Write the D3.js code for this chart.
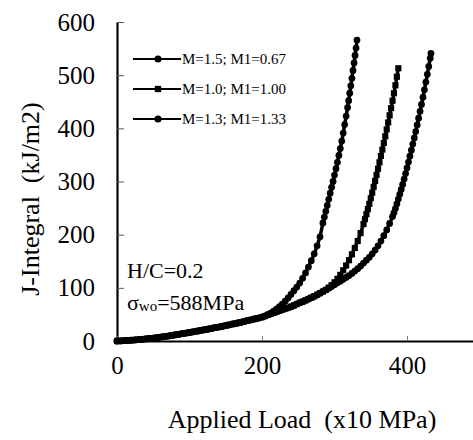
<!DOCTYPE html>
<html>
<head>
<meta charset="utf-8">
<script src="https://cdn.jsdelivr.net/npm/d3@7"></script>
<style>
  body { margin: 0; background: #fff; }
  svg { display: block; }
  svg text { font-family: "Liberation Serif", "Times New Roman", serif; white-space: pre; }
</style>
</head>
<body>
<svg id="chart" width="473" height="440"></svg>
<script>
// Shared low-load part of all three curves (load in x10 MPa, J in kJ/m2)
const baseLoad = [0,5,10,15,20,25,30,35,40,45,50,55,60,65,70,75,80,85,90,95,100,105,110,115,120,125,130,135,140,145,150,155,160,165,170,175,180,185,190,195,200];
const baseJ = [0,0.2,0.5,1,1.5,2,2.6,3.2,4,4.7,5.5,6.4,7.3,8.3,9.3,10.4,11.5,12.6,13.8,14.9,16,17.2,18.5,19.8,21,22.3,23.6,25,26.3,27.6,29,30.5,32,33.5,35,36.6,38.2,39.8,41.5,43.2,45];

// M=1.5; M1=0.67
const s1Load = [204,208,212,216,220,224,228,232,236,240,244,248,252,256,260,264,268,272,276,280,284,286,288,290,292,294,296,298,300,302,304,306,308,310,312,314,316,318,319.5,321,322.5,324,325.5,327,328.3,329.7,331];
const s1J = [47,49.5,52.5,56,60,64.5,69.5,75,81,87.5,94.5,101.5,109,118,128,139,151,164,179,196,222,233,244,255,266.5,278,289,300,312,324,336,349,362,376,391,407,423,439,452,466,480,494,509,523,537,551,566];

// M=1.0; M1=1.00
const s2Load = [204,208,212,216,220,224,228,232,236,240,244,248,252,256,260,264,268,272,276,280,284,288,292,296,300,304,308,312,316,320,324,328,332,336,340,342,344,346,348,350,352,354,356,358,360,362,364,366,368,370,372,374,376,378,380,382,384,386,388];
const s2J = [47,49,51,53,55,57,59,61,62.5,64.5,67,69.5,72,74,76.5,79,81.5,84,87,90,93,96,100.5,105,110.5,117,124.5,133,142,152,163,175,188,203,220,229,238.5,248,258,268.5,279,290,301,312.5,324,336,348,360,372.5,385,398,411,424.5,438,452,466,481,497,513];

// M=1.3; M1=1.33
const s3Load = [204,208,212,216,220,224,228,232,236,240,244,248,252,256,260,264,268,272,276,280,284,288,292,296,300,304,308,312,316,320,324,328,332,336,340,344,348,352,356,360,364,368,372,376,380,382,384,386,388,390,392,394,396,398,400,402,404,406,408,410,412,414,416,418,420,422,424,426,428,430,432,433];
const s3J = [47,49,51,53,55,57,59,61,62.5,64.5,67,69.5,72,74,76.5,79,81.5,84,87,90,93,96,99,102.5,106,109.5,112.5,116,119.5,123,127,131.5,136,141,146.5,152,157.5,164,171,179,188,198,209,221,234,241,249,258,267,276,285,294.5,304.5,315,325.5,336.5,347.5,359,370.5,382,394,406.5,419,432,445,458.5,472.5,487,501.5,516.5,532,541];

const seriesNames = ["M=1.5; M1=0.67", "M=1.0; M1=1.00", "M=1.3; M1=1.33"];
const xTicks = [0, 200, 400];
const yTicks = [0, 100, 200, 300, 400, 500, 600];

const svg = d3.select("#chart");

const x = d3.scaleLinear().domain([0, 491]).range([117, 473]);
const y = d3.scaleLinear().domain([0, 600]).range([341, 22]);

// axes
const yAxis = svg.append("g")
  .attr("transform", "translate(117,0)")
  .call(d3.axisLeft(y).tickValues(yTicks).tickSize(-7).tickSizeOuter(0).tickPadding(22));
yAxis.select(".domain").attr("stroke", "#000").attr("stroke-width", 2.2);
yAxis.selectAll(".tick line").attr("stroke", "#555").attr("stroke-width", 1);
yAxis.selectAll("text").attr("font-size", 25).attr("fill", "#000");

const xAxis = svg.append("g")
  .attr("transform", "translate(0,341)")
  .call(d3.axisBottom(x).tickValues(xTicks).tickSize(-5).tickSizeOuter(0).tickPadding(15));
xAxis.select(".domain").attr("stroke", "#000").attr("stroke-width", 2.2);
xAxis.selectAll(".tick line").attr("stroke", "#777").attr("stroke-width", 1);
xAxis.selectAll("text").attr("font-size", 25).attr("fill", "#000");

// axis titles
svg.append("text")
  .attr("transform", "translate(30,199) rotate(-90)")
  .attr("text-anchor", "middle")
  .attr("dy", "0.35em")
  .attr("font-size", 26)
  .text("J-Integral  (kJ/m2)");

svg.append("text")
  .attr("x", 302).attr("y", 428)
  .attr("text-anchor", "middle")
  .attr("font-size", 26)
  .text("Applied Load  (x10 MPa)");

// curves
const series = [
  { name: seriesNames[2], load: baseLoad.concat(s3Load), j: baseJ.concat(s3J), symbol: d3.symbolCircle },
  { name: seriesNames[1], load: baseLoad.concat(s2Load), j: baseJ.concat(s2J), symbol: d3.symbolSquare },
  { name: seriesNames[0], load: baseLoad.concat(s1Load), j: baseJ.concat(s1J), symbol: d3.symbolCircle }
];

const line = d3.line().x(d => x(d[0])).y(d => y(d[1]));

series.forEach(s => {
  const pts = s.load.map((v, i) => [v, s.j[i]]);
  svg.append("path")
    .datum(pts)
    .attr("fill", "none")
    .attr("stroke", "#000")
    .attr("stroke-width", 3.5)
    .attr("d", line);
  svg.append("g").selectAll("path")
    .data(pts)
    .join("path")
    .attr("transform", d => `translate(${x(d[0])},${y(d[1])})`)
    .attr("d", d3.symbol().type(s.symbol).size(s.symbol === d3.symbolSquare ? 38 : 36))
    .attr("fill", "#000");
});

// legend
const legendRows = [
  { name: seriesNames[0], symbol: d3.symbolCircle },
  { name: seriesNames[1], symbol: d3.symbolSquare },
  { name: seriesNames[2], symbol: d3.symbolCircle }
];
const legend = svg.append("g");
legendRows.forEach((r, i) => {
  const ly = 59 + i * 30;
  legend.append("line")
    .attr("x1", 133).attr("x2", 181).attr("y1", ly).attr("y2", ly)
    .attr("stroke", "#000").attr("stroke-width", 2);
  legend.append("path")
    .attr("transform", `translate(158,${ly})`)
    .attr("d", d3.symbol().type(r.symbol).size(40))
    .attr("fill", "#000");
  legend.append("text")
    .attr("x", 182).attr("y", ly)
    .attr("dy", "0.35em")
    .attr("font-size", 15)
    .text(r.name);
});

// annotations
svg.append("text")
  .attr("x", 127).attr("y", 278)
  .attr("font-size", 22)
  .text("H/C=0.2");

const sig = svg.append("text")
  .attr("x", 127).attr("y", 310)
  .attr("font-size", 22);
sig.append("tspan").text("σ");
sig.append("tspan").attr("font-size", 15).attr("dy", 1).text("wo");
sig.append("tspan").attr("dy", -1).text("=588MPa");
</script>
</body>
</html>
